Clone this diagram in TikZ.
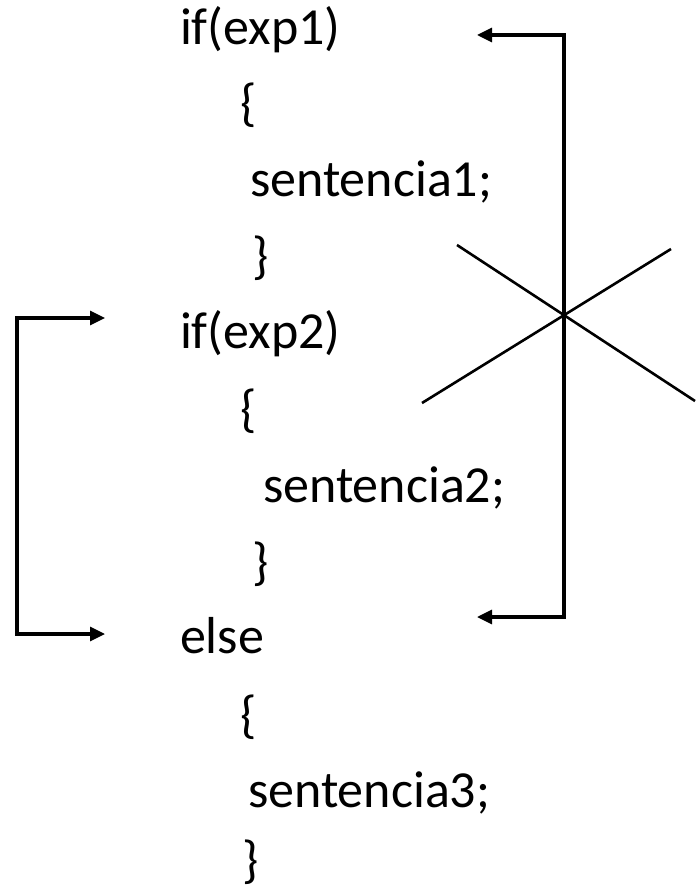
\documentclass[tikz,border=0pt]{standalone}
\usepackage{fontspec}
\setmainfont{Carlito}
\usetikzlibrary{arrows.meta}
\begin{document}
\begin{tikzpicture}[x=1pt,y=-1pt,
  code/.style={anchor=base west,inner sep=0pt,outer sep=0pt,font=\fontsize{52}{62}\selectfont},
  bracket/.style={line width=3.2pt,line cap=rect},
  conn/.style={line width=3.2pt,-{Triangle[length=15pt,width=14pt]}},
  crossline/.style={line width=2.6pt}]
\useasboundingbox (0,0) rectangle (696,890);
% code text
\node[code] (if1) at (180,45) {if(exp1)};
\node[code] (ob1) at (240,121) {\{};
\node[code] (s1)  at (250,197) {sentencia1;};
\node[code] (cb1) at (252,273) {\}};
\node[code] (if2) at (180,348) {if(exp2)};
\node[code] (ob2) at (240,426) {\{};
\node[code] (s2)  at (263,502) {sentencia2;};
\node[code] (cb2) at (252,579) {\}};
\node[code] (els) at (180,653) {else};
\node[code] (ob3) at (240,732) {\{};
\node[code] (s3)  at (248,807) {sentencia3;};
\node[code] (cb3) at (242,877) {\}};
% connector points
\coordinate (rtop) at (564,35);
\coordinate (rbot) at (564,617);
\coordinate (tip1) at (477,35);
\coordinate (tip2) at (477,617);
\coordinate (ltop) at (17,318);
\coordinate (lbot) at (17,634);
\coordinate (tip3) at (105,318);
\coordinate (tip4) at (105,634);
% right bracket (crossed out)
\draw[bracket] (rtop) -- (rbot);
\draw[conn] (rtop) -- (tip1);
\draw[conn] (rbot) -- (tip2);
% left bracket
\draw[bracket] (ltop) -- (lbot);
\draw[conn] (ltop) -- (tip3);
\draw[conn] (lbot) -- (tip4);
% cross
\coordinate (xa1) at (457,245);
\coordinate (xa2) at (695,401);
\coordinate (xb1) at (422,403);
\coordinate (xb2) at (671,249);
\draw[crossline] (xa1) -- (xa2);
\draw[crossline] (xb1) -- (xb2);
\end{tikzpicture}
\end{document}
